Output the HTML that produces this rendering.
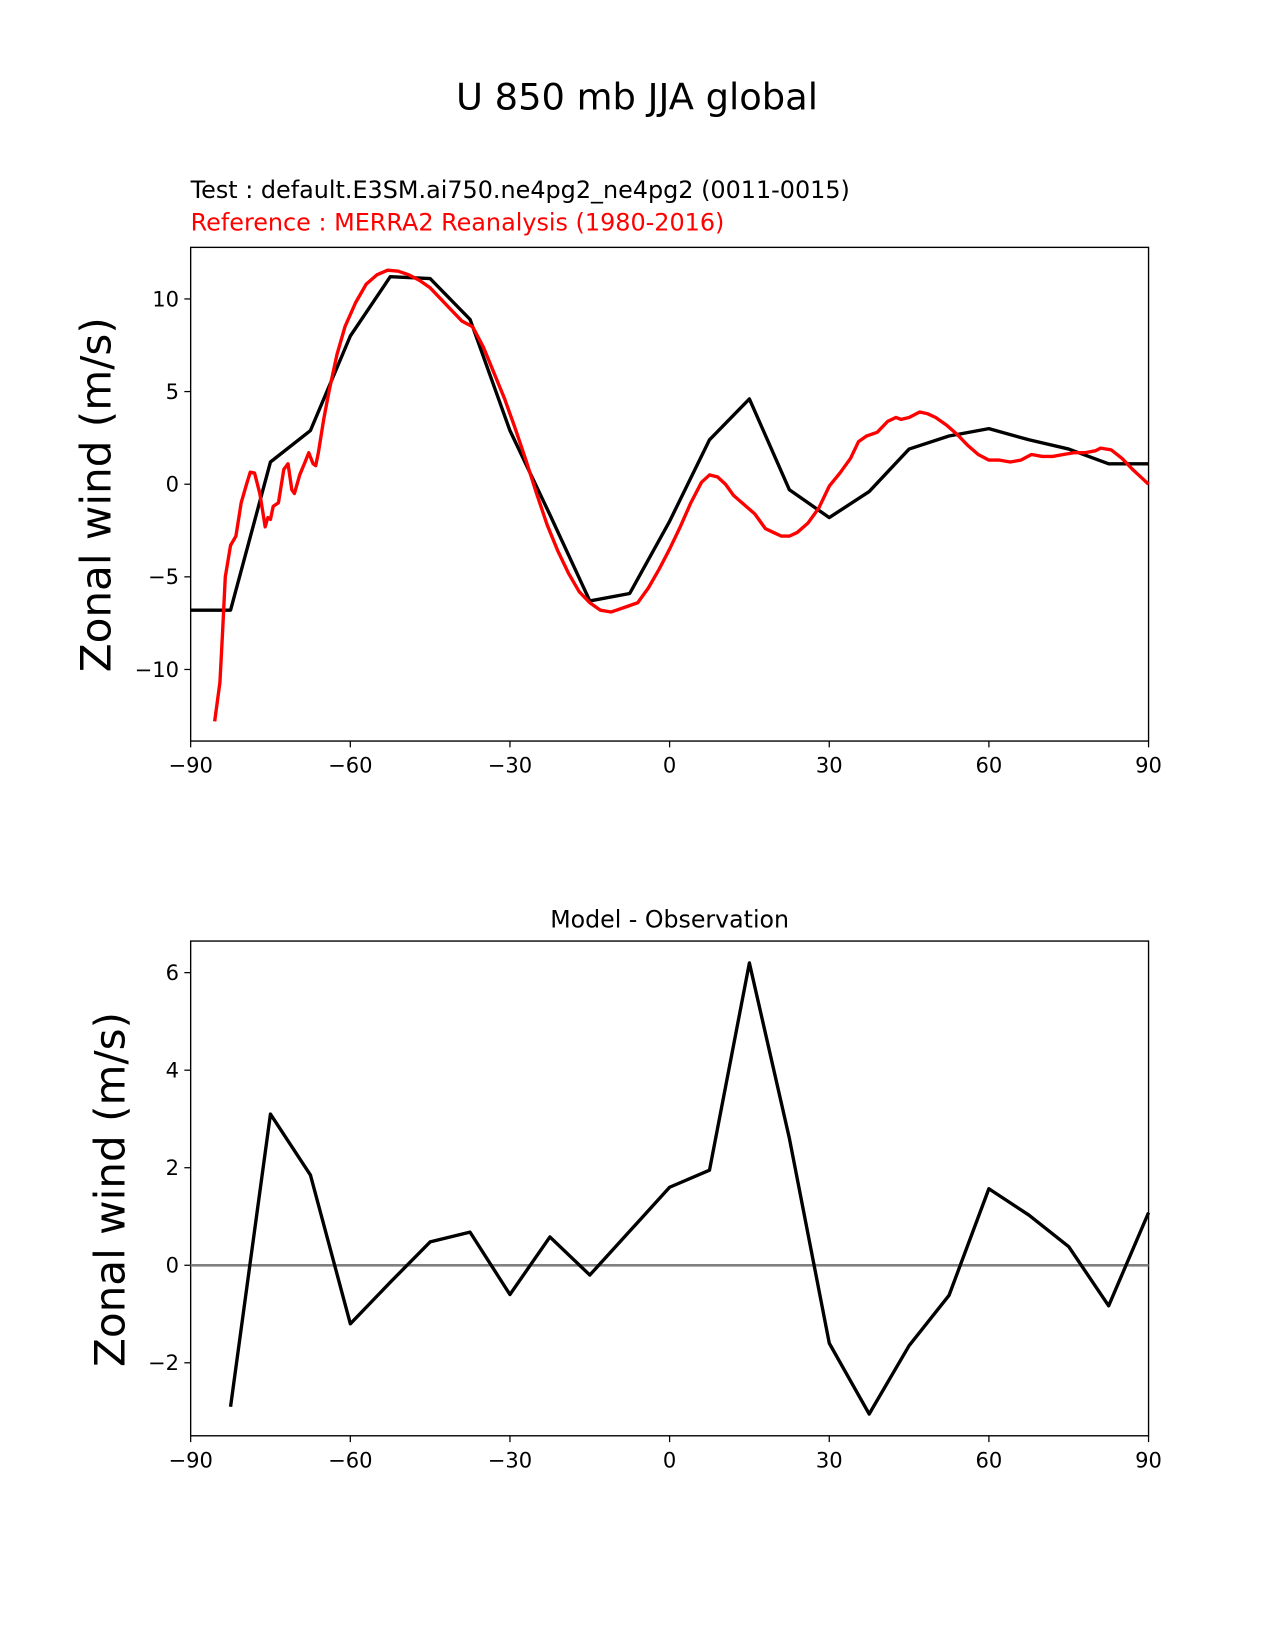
<!DOCTYPE html>
<html><head><meta charset="utf-8"><style>
body{margin:0;background:#fff;}
svg{display:block;font-family:"DejaVu Sans","Liberation Sans",sans-serif;}
</style></head><body>
<svg id="chart" width="1275" height="1650" viewBox="0 0 1211 1567.5" xmlns="http://www.w3.org/2000/svg">
<rect width="1211" height="1567.5" fill="#fff"/>
<text x="605" y="104" text-anchor="middle" font-size="35">U 850 mb JJA global</text>
<text x="181" y="188" font-size="22.7">Test : default.E3SM.ai750.ne4pg2_ne4pg2 (0011-0015)</text>
<text x="181" y="219" font-size="22.7" fill="red">Reference : MERRA2 Reanalysis (1980-2016)</text>
<text x="636" y="881" text-anchor="middle" font-size="22.5">Model - Observation</text>
<g id="g"></g>
</svg>
<script>
const lat = [-90,-82.5,-75,-67.5,-60,-52.5,-45,-37.5,-30,-22.5,-15,-7.5,0,7.5,15,22.5,30,37.5,45,52.5,60,67.5,75,82.5,90];
const testVals = [-6.8,-6.8,1.2,2.9,8.0,11.2,11.1,8.9,2.9,-1.65,-6.3,-5.9,-2.0,2.4,4.6,-0.3,-1.8,-0.4,1.9,2.6,3.0,2.4,1.9,1.1,1.1];
const diffLat = [-82.5,-75,-67.5,-60,-52.5,-45,-37.5,-30,-22.5,-15,-7.5,0,7.5,15,22.5,30,37.5,45,52.5,60,67.5,75,82.5,90];
const diffVals = [-2.9,3.1,1.85,-1.2,-0.35,0.48,0.68,-0.6,0.58,-0.2,0.7,1.6,1.95,6.2,2.6,-1.6,-3.05,-1.65,-0.62,1.57,1.03,0.38,-0.83,1.08];
const refLat = [-85.5,-84.5,-84,-83.5,-82.5,-81.5,-80.5,-79.5,-78.8,-78,-77,-76,-75.5,-75,-74.5,-73.5,-72.5,-71.7,-71,-70.5,-69.5,-68.5,-67.8,-67,-66.5,-66,-65,-64,-62.5,-61,-59,-57,-55,-53,-51,-49,-47,-45,-43,-41,-39,-37,-35,-33,-31,-29,-27,-25,-23,-21,-19,-17,-15,-13,-11,-10,-8,-6,-4,-2,0,2,4,6,7.5,9,10.5,12,14,16,18,19.5,21,22.5,24,26,28,30,32,34,35.5,37,39,41,42.5,43.5,45,47,48.5,50,52,54,56,58,60,62,64,66,68,70,72,74,76,78,80,81,83,85,87,90];
const refVals = [-12.8,-10.7,-8,-5,-3.3,-2.8,-1,0,0.65,0.6,-0.5,-2.3,-1.8,-1.9,-1.2,-1,0.8,1.1,-0.3,-0.5,0.5,1.2,1.7,1.1,1.0,1.7,3.5,5,7,8.5,9.8,10.8,11.3,11.55,11.5,11.3,11.0,10.6,10.0,9.4,8.8,8.5,7.4,6.0,4.6,3.0,1.3,-0.5,-2.2,-3.6,-4.8,-5.8,-6.4,-6.8,-6.9,-6.8,-6.6,-6.4,-5.6,-4.6,-3.5,-2.3,-1.0,0.1,0.5,0.4,0,-0.6,-1.1,-1.6,-2.4,-2.6,-2.8,-2.8,-2.6,-2.1,-1.3,-0.1,0.6,1.4,2.3,2.6,2.8,3.4,3.6,3.5,3.6,3.9,3.8,3.6,3.2,2.7,2.1,1.6,1.3,1.3,1.2,1.3,1.6,1.5,1.5,1.6,1.7,1.7,1.8,1.95,1.85,1.4,0.8,0.0];
const xTicks = [-90,-60,-30,0,30,60,90];
const topYTicks = [-10,-5,0,5,10];
const botYTicks = [-2,0,2,4,6];

const NS='http://www.w3.org/2000/svg', g=document.getElementById('g');
function el(t,a,txt){const e=document.createElementNS(NS,t);for(const k in a)e.setAttribute(k,a[k]);if(txt!==undefined)e.textContent=txt;g.appendChild(e);return e;}
const X0=181,X1=1091;
const xs=v=>X0+(v+90)/180*(X1-X0);
function panel(top,bot,ys,ticks,name){
  el('rect',{x:X0,y:top,width:X1-X0,height:bot-top,fill:'none',stroke:'#000','stroke-width':1.3,});
  xTicks.forEach(t=>{const x=xs(t);
    const l=el('line',{x1:x,x2:x,y1:bot,y2:bot+6,stroke:'#000','stroke-width':1.2});
    
    
    const tx=el('text',{x:x,y:bot+30,'text-anchor':'middle','font-size':20},(t<0?'\u2212'+(-t):t));
    
    });
  ticks.forEach(t=>{const y=ys(t);
    const l=el('line',{x1:X0-6,x2:X0,y1:y,y2:y,stroke:'#000','stroke-width':1.2});
    
    
    const tx=el('text',{x:X0-11,y:y+7,'text-anchor':'end','font-size':20},(t<0?'\u2212'+(-t):t));
    
    });
}
function line(xa,ya,ys,color,name){
  const d=xa.map((v,i)=>(i?'L':'M')+xs(v).toFixed(1)+','+ys(ya[i]).toFixed(1)).join('');
  const p=el('path',{d:d,fill:'none',stroke:color,'stroke-width':3.2,'stroke-linejoin':'round'});
  
  
}
const ysT=v=>460-v*17.6;
panel(235,704,ysT,topYTicks,'top');
line(lat,testVals,ysT,'#000','test-line');
line(refLat,refVals,ysT,'red','reference-line');
const yl1=el('text',{x:0,y:0,transform:'translate(105,470) rotate(-90)','text-anchor':'middle','font-size':40},'Zonal wind (m/s)');


const ysB=v=>1202-v*46.33;
panel(894,1364,ysB,botYTicks,'bottom');
const z=el('line',{x1:X0,x2:X1,y1:ysB(0),y2:ysB(0),stroke:'#808080','stroke-width':2.5});


line(diffLat,diffVals,ysB,'#000','difference-line');
const yl2=el('text',{x:0,y:0,transform:'translate(118,1130) rotate(-90)','text-anchor':'middle','font-size':40},'Zonal wind (m/s)');


</script>
</body></html>
